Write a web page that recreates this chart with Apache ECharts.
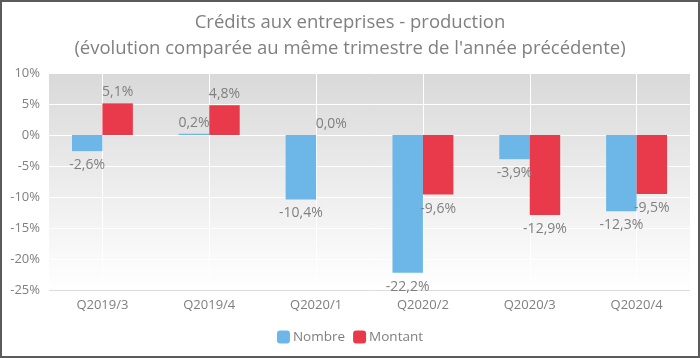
<!DOCTYPE html>
<html><head><meta charset="utf-8">
<script src="https://cdn.jsdelivr.net/npm/echarts@6/dist/echarts.min.js"></script>
<style>
html,body{margin:0;padding:0;background:#fff;}
#c{width:700px;height:358px;box-sizing:border-box;border:2px solid #5b5b5b;}
</style></head><body>
<div id="c"></div>
<script>
const categories = ['Q2019/3','Q2019/4','Q2020/1','Q2020/2','Q2020/3','Q2020/4'];
const nombre = [-2.6, 0.2, -10.4, -22.2, -3.9, -12.3];
const montant = [5.1, 4.8, 0.0, -9.6, -12.9, -9.5];
const yTicks = {min: -25, max: 10, interval: 5};
const titleLines = ['Crédits aux entreprises - production', "(évolution comparée au même trimestre de l'année précédente)"];

const font = 'Open Sans';
const grayText = '#7f7f7f';
function fmt(v){ return v.toFixed(1).replace('.', ',') + '%'; }
function items(arr){
  return arr.map(v => ({value: v, label: v >= 0 ? {position: 'top', distance: 4} : {position: 'bottom', distance: 7}}));
}
const chart = echarts.init(document.getElementById('c'), null, {renderer:'canvas'});
chart.setOption({
  animation: false,
  title: {
    text: titleLines.join('\n'), left: 'center', top: 3,
    textStyle: {fontFamily: font, fontSize: 18.5, fontWeight: 'normal', color: '#808080', lineHeight: 26}
  },
  legend: {
    bottom: 7, left: 'center', itemWidth: 13, itemHeight: 13, itemGap: 8,
    textStyle: {fontFamily: font, fontSize: 13.5, color: grayText, padding:[0,0,0,-2]},
    data: ['Nombre','Montant']
  },
  grid: {
    left: 47, right: 8, top: 71, bottom: 66, show: true, borderWidth: 0,
    backgroundColor: new echarts.graphic.LinearGradient(0,0,0,1,[
      {offset:0, color:'#d9d9d9'},{offset:1, color:'#ffffff'}])
  },
  xAxis: {
    type: 'category', data: categories,
    axisLine: {show: false},
    axisTick: {show: false},
    axisLabel: {fontFamily: font, fontSize: 13, color: grayText, margin: 9},
    splitLine: {show: true, alignWithLabel: true, lineStyle: {color: '#ffffff', width: 1}}
  },
  yAxis: {
    type: 'value', min: yTicks.min, max: yTicks.max, interval: yTicks.interval,
    axisLine: {show: false}, axisTick: {show: false},
    axisLabel: {fontFamily: font, fontSize: 13, color: grayText, margin: 9,
      formatter: v => v + '%'},
    splitLine: {lineStyle: {color: ['#dcdcdc','#ffffff','#ffffff','#ffffff','#ffffff','#ffffff','#ffffff','#ffffff']}}
  },
  series: [
    {name: 'Nombre', type: 'bar', data: items(nombre), barGap: '0%', barCategoryGap: '43%',
     itemStyle: {color: '#6cb7e7'},
     label: {show: true, fontFamily: font, fontSize: 14, color: grayText, formatter: p => fmt(p.value)}},
    {name: 'Montant', type: 'bar', data: items(montant),
     itemStyle: {color: '#e83a4a'},
     label: {show: true, fontFamily: font, fontSize: 14, color: grayText, formatter: p => fmt(p.value)}}
  ]
});
</script></body></html>
